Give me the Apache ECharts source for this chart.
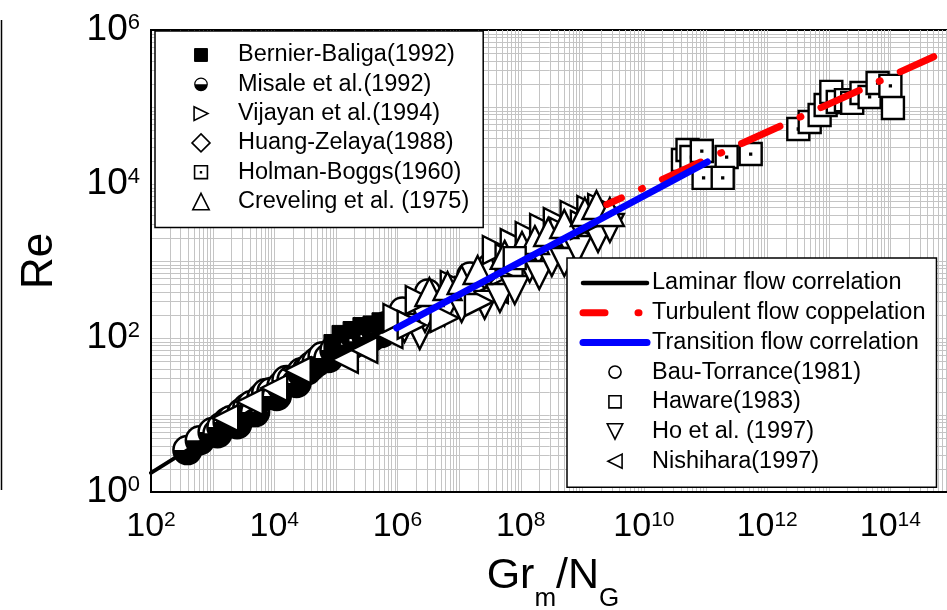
<!DOCTYPE html>
<html>
<head>
<meta charset="utf-8">
<script src="https://cdn.jsdelivr.net/npm/echarts@6/dist/echarts.min.js"></script>
<style>
html, body { margin: 0; padding: 0; background: #fff; }
#chart { width: 947px; height: 610px; }
</style>
</head>
<body>
<div id="chart"></div>
<script>
// Natural-circulation loop data: Re against Gr_m/N_G, both on log scales.
// Each point is [Gr_m/N_G, Re].

const bernierBaliga = [[8.8e4, 86], [1.19e5, 113], [1.8e5, 127], [2.6e5, 143], [3.8e5, 150], [5.3e5, 165]];

const misale = [
  [3.9e2, 3.5], [6.2e2, 4.7], [1.0e3, 6.0], [1.2e3, 5.8], [1.39e3, 7.0], [1.75e3, 8.1],
  [2.0e3, 8.6], [2.5e3, 7.6], [2.95e3, 10.6], [3.65e3, 12.3], [4.3e3, 13.5], [4.9e3, 10.9],
  [6.2e3, 16.6], [7.4e3, 19.3], [9.0e3, 19.9], [1.1e4, 17.7], [1.31e4, 23.8], [1.58e4, 28.5],
  [1.91e4, 28.5], [2.3e4, 26], [2.77e4, 36], [3.4e4, 38], [4.0e4, 43], [4.9e4, 49],
  [6.1e4, 58], [7.6e4, 55], [9.5e4, 70], [1.15e5, 70], [1.49e5, 86], [1.78e5, 81],
  [2.17e5, 97], [2.63e5, 91], [3.15e5, 106], [3.8e5, 103], [4.6e5, 120], [5.5e5, 116],
  [6.6e5, 143], [9.0e5, 161]
];

const vijayan = [
  [1.0e6, 182], [1.7e6, 148], [2.3e6, 312], [5.8e6, 182], [8.5e6, 488], [2.1e7, 294],
  [4.1e7, 1390], [6.6e7, 1090], [8.0e7, 1710], [1.4e8, 2110], [2.4e8, 2680], [4.0e8, 3210],
  [5.1e8, 2380], [7.5e8, 3960], [1.1e9, 2940], [1.4e9, 4590], [2.1e9, 4880]
];

const huangZelaya = [[1.2e6, 161], [3.1e6, 269], [8.5e6, 420], [2.6e7, 658]];

const holmanBoggs = [
  [5.9e10, 22400], [8.7e10, 26800], [2.2e11, 22400], [5.4e11, 24500], [9.3e10, 12000], [1.9e11, 12000],
  [3.2e12, 51800], [4.9e12, 63800], [7.1e12, 78700], [8.9e12, 106000], [1.1e13, 157000],
  [1.4e13, 116000], [1.9e13, 123000], [2.4e13, 113000], [3.4e13, 152000], [4.6e13, 135000],
  [6.2e13, 205000], [1.0e14, 188000]
];

const creveling = [
  [3.3e6, 396], [6.5e6, 473], [1.1e7, 566], [2.0e7, 764], [5.5e7, 1200], [1.05e8, 1570],
  [1.7e8, 1870], [2.8e8, 2380], [5.1e8, 3030], [1.1e9, 4330], [1.7e9, 5340], [2.8e9, 4330]
];

const bauTorrance = [[1.2e6, 231], [3.1e6, 396], [1.5e7, 658], [3.2e7, 861], [5.5e7, 1090]];

const haware = [[8.0e7, 1090], [4.3e10, 20500], [5.1e10, 27700], [1.1e14, 97000]];

const hoEtAl = [
  [1.3e6, 135], [2.3e6, 109], [2.8e6, 182], [5.8e6, 218], [1.1e7, 245], [2.6e7, 269],
  [4.6e7, 331], [8.0e7, 420], [1.4e8, 811], [2.0e8, 658], [3.2e8, 971], [5.1e8, 971],
  [8.3e8, 1390], [1.8e9, 1990], [2.8e9, 2680]
];

const nishihara = [
  [1.6e3, 9.1], [4.0e3, 14.8], [1.0e4, 22.4], [2.4e4, 38], [1.4e5, 52], [2.9e5, 70],
  [7.4e5, 109], [2.1e6, 182], [7.6e6, 312], [1.8e7, 396], [3.8e7, 420], [6.6e7, 811],
  [2.0e8, 1200], [5.1e8, 1770], [1.3e9, 2680]
];

// Correlation lines (end points of straight lines in log-log space)
const laminarLine = [[1.0e2, 1.77], [1.0e6, 177]];
const turbulentLine = [[2.5e9, 5420], [5.05e14, 450000]];
const transitionLine = [[9.7e5, 135], [1.07e11, 19300]];

// Axis extents and labelled decades
const xMin = 1e2, xMax = 1e15;
const yMin = 1, yMax = 1e6;
const xLabelExponents = [2, 4, 6, 8, 10, 12, 14];
const yLabelExponents = [0, 2, 4, 6];

const FONT = "'Liberation Sans', Arial, sans-serif";
const GRID_COLOR = '#c4c4c4';

// Full log grid: every k * 10^n between the axis borders
const xGridValues = [];
for (let e = 2; e <= 14; e++) for (let k = 1; k <= 9; k++) { const v = k * Math.pow(10, e); if (v > xMin) xGridValues.push([v, 1]); }
const yGridValues = [];
for (let e = 0; e <= 5; e++) for (let k = 1; k <= 9; k++) { const v = k * Math.pow(10, e); if (v > yMin) yGridValues.push([xMin, v]); }

// Marker shapes
const symSquare = 'path://M0,0H20V20H0Z';
const symDiamond = 'path://M10,0L20,10L10,20L0,10Z';
const symRight = 'path://M0,0L20,10L0,20Z';
const symLeft = 'path://M20,0L0,10L20,20Z';
const symDown = 'path://M0,0L20,0L10,20Z';
const symUp = 'path://M10,0L20,20L0,20Z';
const symDotSquare = 'path://M0,0H20V20H0Z M9.6,9.6H10.4V10.4H9.6Z';

// Legend icons: the outer move-to points set the icon's box, so the
// drawn shape can be smaller than the legend item height.
const icoSquare = 'path://M-4,-4 M0,0H20V20H0Z M24,24';
const icoDotSquare = 'path://M-4,-4 M0,0H20V20H0Z M9.4,9.4H10.6V10.6H9.4Z M24,24';
const icoRight = 'path://M-3,-3 M0,0L20,10L0,20Z M23,23';
const icoLeft = 'path://M-2,-2 M20,0L0,10L20,20Z M22,22';
const icoDown = 'path://M-1,-1 M0,0L20,0L10,20Z M21,21';
const icoUp = 'path://M-1,-1 M10,0L20,20L0,20Z M21,21';
const icoCircle = 'path://M-4,-4 M0,10A10,10 0 1 1 20,10A10,10 0 1 1 0,10Z M24,24';

const halfDiscIcon = 'image://data:image/svg+xml;charset=utf-8,' + encodeURIComponent(
  "<svg xmlns='http://www.w3.org/2000/svg' width='36' height='36' viewBox='0 0 36 36'>" +
  "<circle cx='18' cy='18' r='12.5' fill='#fff' stroke='#000' stroke-width='2.4'/>" +
  "<path d='M5.5 18 A12.5 12.5 0 0 0 30.5 18 Z' fill='#000'/></svg>");

const openStyle = { color: '#fff', borderColor: '#000', borderWidth: 2.4, opacity: 1 };
const iconStyle = { color: '#fff', borderColor: '#000', borderWidth: 1.6 };
const hiddenMarker = { color: 'rgba(0,0,0,0)', borderColor: 'rgba(0,0,0,0)', borderWidth: 0 };

function decadeLabel(list) {
  return function (v) {
    const e = Math.round(Math.log10(v));
    return list.indexOf(e) >= 0 ? '{b|10}{p|' + e + '}' : '';
  };
}

function scatter(name, data, symbol, size, style) {
  return {
    name: name, type: 'scatter', data: data, symbol: symbol, symbolSize: size,
    itemStyle: style || openStyle, z: 2, silent: true
  };
}

const chart = echarts.init(document.getElementById('chart'), null, { renderer: 'canvas' });

chart.setOption({
  animation: false,
  backgroundColor: '#fff',
  grid: {
    left: 151, top: 30, right: -5, bottom: 118,
    outerBoundsMode: 'none', containLabel: false,
    show: true, borderColor: '#000', borderWidth: 2, backgroundColor: 'transparent'
  },
  xAxis: {
    type: 'log', logBase: 10, min: xMin, max: xMax, interval: 2,
    z: 3,
    axisLine: { show: true, lineStyle: { color: '#000', width: 2 } },
    axisTick: { show: false },
    splitLine: { show: false },
    axisLabel: {
      showMaxLabel: false, margin: 18,
      formatter: decadeLabel(xLabelExponents),
      rich: {
        b: { fontFamily: FONT, fontSize: 34, lineHeight: 34, verticalAlign: 'bottom', color: '#000' },
        p: { fontFamily: FONT, fontSize: 21, lineHeight: 21, verticalAlign: 'top', color: '#000' }
      }
    }
  },
  yAxis: {
    type: 'log', logBase: 10, min: yMin, max: yMax, interval: 2,
    z: 3,
    axisLine: { show: true, lineStyle: { color: '#000', width: 2 } },
    axisTick: { show: false },
    splitLine: { show: false },
    axisLabel: {
      margin: 11,
      formatter: decadeLabel(yLabelExponents),
      rich: {
        b: { fontFamily: FONT, fontSize: 37, lineHeight: 37, verticalAlign: 'bottom', color: '#000' },
        p: { fontFamily: FONT, fontSize: 22, lineHeight: 22, verticalAlign: 'top', color: '#000' }
      }
    },
    name: 'Re',
    nameLocation: 'middle', nameRotate: 90, nameGap: 89,
    nameTextStyle: { fontFamily: FONT, fontSize: 44, color: '#000' }
  },
  legend: [
    {
      orient: 'vertical', left: 155, top: 31,
      padding: [12, 14, 14, 14],
      itemWidth: 64, itemHeight: 18, itemGap: 5.3,
      backgroundColor: '#fff', borderColor: '#000', borderWidth: 1.5, borderRadius: 0,
      selectedMode: false,
      textStyle: { fontFamily: FONT, fontSize: 23.5, color: '#000' },
      data: [
        { name: 'Bernier-Baliga(1992)', icon: icoSquare, itemStyle: { color: '#000', borderColor: '#000', borderWidth: 1 } },
        { name: 'Misale et al.(1992)', icon: halfDiscIcon },
        { name: 'Vijayan et al.(1994)', icon: icoRight, itemStyle: iconStyle },
        { name: 'Huang-Zelaya(1988)', icon: symDiamond, itemStyle: iconStyle },
        { name: 'Holman-Boggs(1960)', icon: icoDotSquare, itemStyle: iconStyle },
        { name: 'Creveling et al. (1975)', icon: icoUp, itemStyle: iconStyle }
      ]
    },
    {
      orient: 'vertical', left: 567, top: 258,
      padding: [13, 11, 14, 12.5],
      itemWidth: 64, itemHeight: 17, itemGap: 5.7,
      backgroundColor: '#fff', borderColor: '#000', borderWidth: 1.5, borderRadius: 0,
      selectedMode: false,
      textStyle: { fontFamily: FONT, fontSize: 23.5, color: '#000' },
      data: [
        { name: 'Laminar flow correlation', itemStyle: hiddenMarker, lineStyle: { color: '#000', width: 4.5, cap: 'round' } },
        { name: 'Turbulent flow coppelation', itemStyle: hiddenMarker, lineStyle: { color: '#ff0000', width: 7, type: [22, 33, 1, 30], dashOffset: 0, cap: 'round' } },
        { name: 'Transition flow correlation', itemStyle: hiddenMarker, lineStyle: { color: '#0000ff', width: 7, cap: 'round' } },
        { name: 'Bau-Torrance(1981)', icon: icoCircle, itemStyle: iconStyle },
        { name: 'Haware(1983)', icon: icoSquare, itemStyle: iconStyle },
        { name: 'Ho et al. (1997)', icon: icoDown, itemStyle: iconStyle },
        { name: 'Nishihara(1997)', icon: icoLeft, itemStyle: iconStyle }
      ]
    }
  ],
  graphic: [
    { type: 'line', shape: { x1: 1.5, y1: 20, x2: 1.5, y2: 490 }, style: { stroke: '#000', lineWidth: 1.5 }, silent: true },
    {
      // x-axis title with subscripts
      type: 'text', x: 553, y: 555, silent: true,
      style: {
        text: '{g|Gr}{s|m}{g|/N}{s|G}',
        align: 'center', verticalAlign: 'top',
        rich: {
          g: { fontFamily: FONT, fontSize: 43, lineHeight: 43, verticalAlign: 'top', fill: '#000' },
          s: { fontFamily: FONT, fontSize: 26, lineHeight: 87, fill: '#000' }
        }
      }
    }
  ],
  series: [
    {
      type: 'custom', silent: true, z: 1, data: xGridValues,
      renderItem: function (params, api) {
        const cs = params.coordSys;
        const x = Math.round(api.coord([api.value(0), 1])[0]) + 0.5;
        return { type: 'line', shape: { x1: x, y1: cs.y, x2: x, y2: cs.y + cs.height }, style: { stroke: GRID_COLOR, lineWidth: 1 } };
      }
    },
    {
      type: 'custom', silent: true, z: 1, data: yGridValues,
      renderItem: function (params, api) {
        const cs = params.coordSys;
        const y = Math.round(api.coord([xMin, api.value(1)])[1]) + 0.5;
        return { type: 'line', shape: { x1: cs.x, y1: y, x2: cs.x + cs.width, y2: y }, style: { stroke: GRID_COLOR, lineWidth: 1 } };
      }
    },
    {
      name: 'Laminar flow correlation', type: 'line', data: laminarLine, symbol: 'none', silent: true, z: 2,
      itemStyle: { color: '#000' },
      lineStyle: { color: '#000', width: 4, cap: 'round' }
    },
    scatter('Nishihara(1997)', nishihara, symLeft, 26),
    scatter('Bernier-Baliga(1992)', bernierBaliga, symSquare, 17, { color: '#000', borderColor: '#000', borderWidth: 1, opacity: 1 }),
    {
      name: 'Misale et al.(1992)', type: 'custom', silent: true, z: 2, data: misale,
      itemStyle: { color: '#000' },
      renderItem: function (params, api) {
        const p = api.coord([api.value(0), api.value(1)]);
        const r = 14;
        return {
          type: 'group',
          children: [
            { type: 'circle', shape: { cx: p[0], cy: p[1], r: r }, style: { fill: '#fff', stroke: '#000', lineWidth: 2.5 } },
            { type: 'sector', shape: { cx: p[0], cy: p[1], r0: 0, r: r, startAngle: 0, endAngle: Math.PI, clockwise: true }, style: { fill: '#000' } }
          ]
        };
      }
    },
    scatter('Huang-Zelaya(1988)', huangZelaya, symDiamond, 26),
    scatter('Bau-Torrance(1981)', bauTorrance, 'circle', 25),
    scatter('Ho et al. (1997)', hoEtAl, symDown, 28),
    scatter('Vijayan et al.(1994)', vijayan, symRight, 28),
    scatter('Creveling et al. (1975)', creveling, symUp, 28),
    scatter('Haware(1983)', haware, symSquare, 22),
    scatter('Holman-Boggs(1960)', holmanBoggs, symDotSquare, 22),
    {
      name: 'Turbulent flow coppelation', type: 'line', data: turbulentLine, symbol: 'none', silent: true, z: 4,
      itemStyle: { color: '#ff0000' },
      lineStyle: { color: '#ff0000', width: 7, type: [42, 22, 1, 22], dashOffset: 26, cap: 'round' }
    },
    {
      name: 'Transition flow correlation', type: 'line', data: transitionLine, symbol: 'none', silent: true, z: 4,
      itemStyle: { color: '#0000ff' },
      lineStyle: { color: '#0000ff', width: 7, cap: 'round' }
    }
  ]
});
</script>
</body>
</html>
